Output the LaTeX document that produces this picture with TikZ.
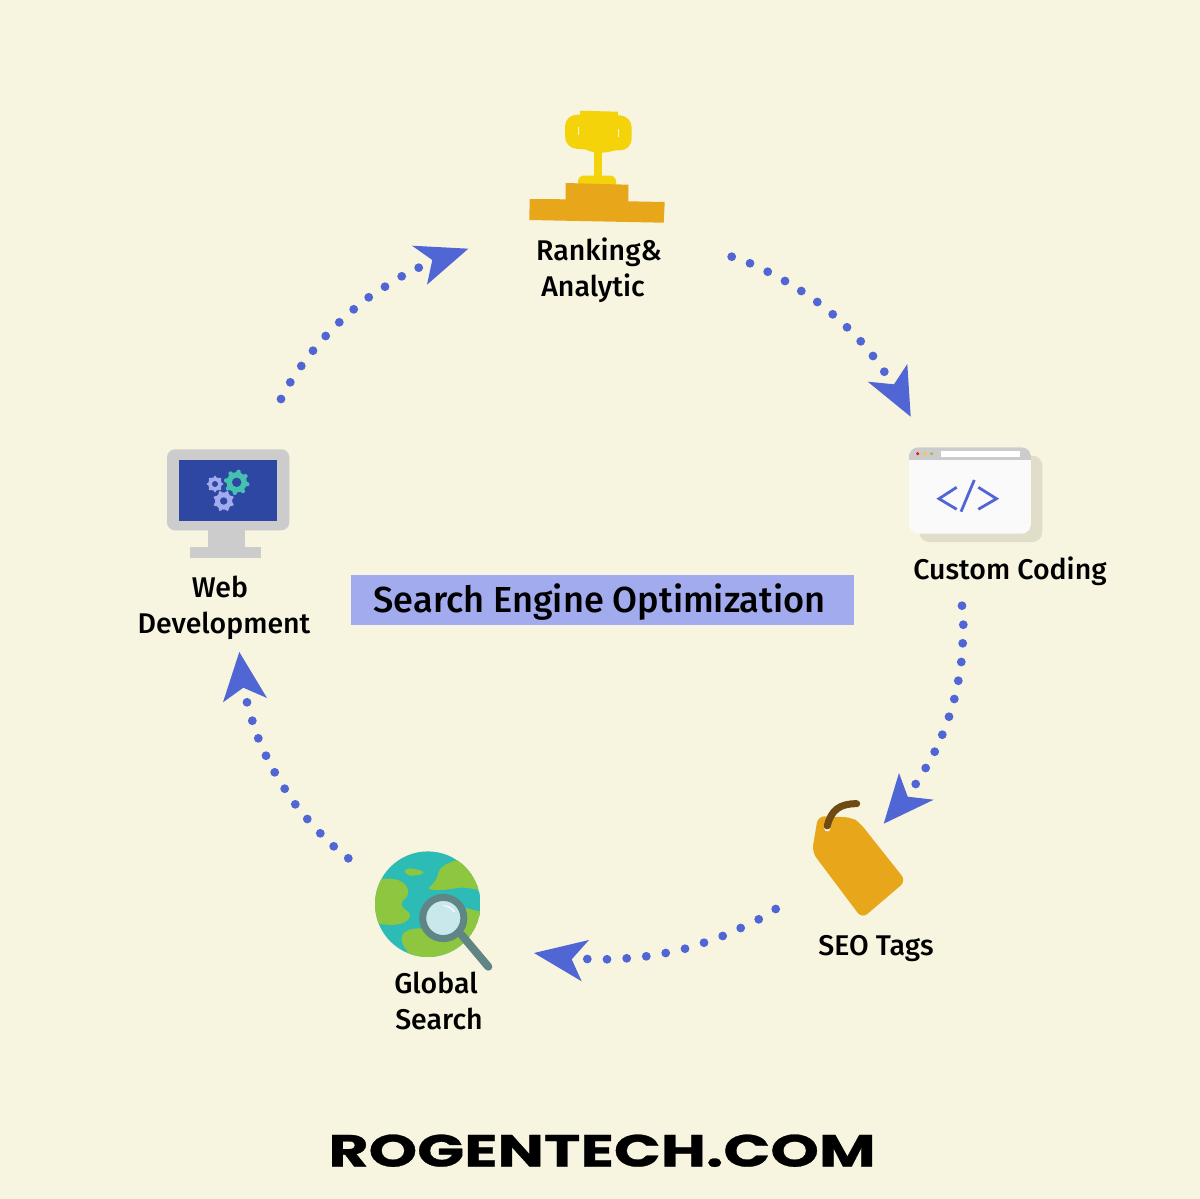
\documentclass[tikz,border=0pt]{standalone}
\usepackage{fontspec}
\usepackage{graphicx}
\setmainfont{Fira Sans}[UprightFont=* Medium]
\newfontfamily\brandfont{Poppins}[UprightFont=* Bold,FakeBold=0.6]
\definecolor{bgcream}{HTML}{F7F4E0}
\definecolor{dotblue}{HTML}{5066D4}
\definecolor{boxblue}{HTML}{A3ABEF}
\definecolor{trophyy}{HTML}{F5D30A}
\definecolor{amber}{HTML}{E8A71A}
\definecolor{shadowc}{HTML}{E0DEC9}
\definecolor{greyc}{HTML}{CCCCCC}
\definecolor{screenc}{HTML}{2D47A3}
\definecolor{gearteal}{HTML}{45C1B0}
\definecolor{stringc}{HTML}{6E4B12}
\definecolor{seac}{HTML}{2DBBB5}
\definecolor{landc}{HTML}{8EC63F}
\definecolor{lensring}{HTML}{5F8585}
\definecolor{glassc}{HTML}{C9E8EC}
\tikzset{
  flowdot/.style={fill=dotblue,draw=none},
  headshape/.style={fill=dotblue,draw=none},
  lbl/.style={anchor=base,inner sep=0pt,font=\fontsize{28.5}{28.5}\selectfont,text=black},
  land/.style={fill=landc,draw=none},
}
\newcommand{\dotarc}[1]{\foreach \px/\py in {#1} {\fill[flowdot] (\px,\py) circle[radius=4.4];}}
\newcommand{\gearicon}[6]{%x y r hole color teeth
  \fill[#5] (#1,#2) circle[radius=#3*0.8];
  \foreach \a in {0,45,...,315} {\draw[#5,line width=#3*0.34pt,line cap=round] ($(#1,#2)+(\a+#6:#3*0.7)$) -- ($(#1,#2)+(\a+#6:#3*0.84)$);}
  \fill[screenc] (#1,#2) circle[radius=#4];}
\usetikzlibrary{calc}
\begin{document}
\begin{tikzpicture}[x=1pt,y=-1pt]
\fill[bgcream] (0,0) rectangle (1200,1199);
\useasboundingbox (0,0) rectangle (1200,1199);

% connectors
\dotarc{731.7/256.7,750/263.3,767.7/271.7,785/281,801.3/291,817.3/302,832.7/314.3,847/327.3,860.7/341.3,873/356,884.3/371.7}
\fill[headshape] (867.7,381.7) -- (894,384.3) -- (907.3,364) -- (910.7,416.7) -- cycle;
\dotarc{962/605.7,963.3/624.7,962.7/643.3,961.3/662,958.3/680.7,954.3/699,949/716.7,942.3/734.7,934.7/751.7,925.7/768,915.7/784}
\fill[headshape] (899,773) -- (907.7,796.7) -- (933.7,799.7) -- (883.7,823.7) -- cycle;
\dotarc{775.7/909,758.7/919.3,740.7/928,722.7/936,704/942.7,685/948.7,665.7/953,646.3/956.3,626.7/958.3,607/959.3,587.3/959}
\fill[headshape] (589,940) -- (571.7,959.3) -- (581.7,981.3) -- (534,953) -- cycle;
\dotarc{348.3/858.3,333.7/846.3,320.3/833.3,307.3/819,295.3/804.3,284.7/788.7,274.7/772.3,266/755.7,258.3/738.3,252.3/720.7,247/702.3}
\fill[headshape] (223,702.3) -- (243.3,687.7) -- (267,698) -- (239.3,652) -- cycle;
\dotarc{281/399,290.3/382.3,301.3/366,313/350.7,325.7/336,339.3/322.3,353.7/309.3,368.7/297.3,385/286.7,401.7/276.3,418.7/267.7}
\fill[headshape] (412,245.7) -- (432.3,260) -- (427,284.7) -- (468.3,248.7) -- cycle;

% trophy
\fill[trophyy,rounded corners=12pt] (565,114.5) -- (631.7,115.5) -- (631.7,150.7) -- (565,148.5) -- cycle;
\fill[trophyy] (580,110.7) -- (618,111.7) -- (617,150) -- (608,152) .. controls (604,153) and (592,153) .. (587,150) -- (580,148) -- cycle;
\fill[bgcream] (578.2,127) rectangle (579.2,135);
\fill[bgcream] (617.5,129) rectangle (618.5,137);
\fill[trophyy] (594,150) rectangle (601.7,178);
\fill[trophyy,rounded corners=6pt] (578,190) -- (578,175.5) -- (616,175.5) -- (616,190) -- cycle;
\fill[amber] (529.7,199) -- (565.7,199.3) -- (565.7,183) -- (628.3,184.7) -- (628.3,201.3) -- (664.7,202) -- (663.7,222.7) -- (529.3,220) -- cycle;

% browser window
\fill[shadowc,rounded corners=10pt] (919.3,455.7) rectangle (1042.3,542);
\begin{scope}
\clip[rounded corners=10pt] (908.7,447.3) rectangle (1031.3,533.7);
\fill[white!98!black] (908.7,447.3) rectangle (1031.3,533.7);
\fill[greyc] (908.7,447.3) rectangle (1031.3,460);
\end{scope}
\fill[red!90!orange] (917.7,453.7) circle[radius=1.7];
\fill[trophyy] (925,453.7) circle[radius=1.7];
\fill[landc] (931.7,453.7) circle[radius=1.7];
\fill[white] (941,451) rectangle (1020,456.7);
\draw[dotblue,line width=2.8pt] (956.7,487.3) -- (939,498.7) -- (956.7,509.3);
\draw[dotblue,line width=2.8pt] (974.3,480) -- (961,511.7);
\draw[dotblue,line width=2.8pt] (978.3,487.3) -- (996.5,498.7) -- (978.3,509.3);

% tag
\fill[amber,rounded corners=7pt] (818,816) -- (852,817.5) -- (860,823) -- (906,881) -- (862,918.5) -- (812,852) -- cycle;
\fill[white] (827.3,828.3) circle[radius=3];
\draw[stringc,line width=7pt,line cap=round] (827.3,826) .. controls (831,810) and (840,803.5) .. (856.7,803.7);

% globe
\begin{scope}
\clip (427.8,904.2) circle[radius=52.8];
\fill[seac] (427.8,904.2) circle[radius=52.8];
\fill[land,rounded corners=3pt] (404.3,869.3) -- (410,868.3) -- (423.3,870.7) -- (423.3,874.3) -- (410,876) -- (405,873.3) -- cycle;
\fill[land] (457,860) .. controls (445,864) and (439,867) .. (437.3,876.7) .. controls (436,882) and (431,885) .. (428.3,888.3) .. controls (435,892) and (450,889) .. (460,887.7) .. controls (466,887) and (472,889) .. (485,891) -- (490,860) -- cycle;
\fill[land] (370,880) .. controls (380,879) and (392,878) .. (398,880) .. controls (405,882) and (409,888) .. (408.3,893.3) .. controls (407,899) and (400,901) .. (401.7,905) .. controls (403,910) and (410,911) .. (410,915) .. controls (410,922) and (400,925) .. (390,925) -- (370,923) -- cycle;
\fill[land] (401.7,938.3) .. controls (402,931) and (410,928) .. (423.3,928.3) .. controls (432,928) and (440,930) .. (445,925) -- (466,908) .. controls (470,909) and (476,911) .. (484,912) -- (484,965) -- (420,965) .. controls (408,953) and (401,945) .. (401.7,938.3) -- cycle;
\end{scope}
\draw[lensring,line width=8pt,line cap=round] (461.7,935) -- (488.3,966.7);
\fill[glassc] (443.3,918) circle[radius=18];
\draw[lensring,line width=7pt] (443.3,918) circle[radius=20.6];
\draw[white,line width=1pt] (443.5,905.5) .. controls (448,906) and (452,908) .. (454.5,912);

% monitor
\fill[greyc,rounded corners=8pt] (167,449.3) rectangle (289.3,530.3);
\fill[greyc] (208.3,530) rectangle (245,547.3);
\fill[greyc] (190.3,547.3) rectangle (261.3,557.7);
\fill[screenc] (179,459.7) rectangle (276.7,521.3);
\gearicon{236.7}{482.3}{12.8}{4.7}{gearteal}{10}
\gearicon{215}{484}{8.6}{3}{boxblue}{0}
\gearicon{223.7}{501}{10.8}{3.7}{boxblue}{22}

% title
\fill[boxblue] (351,574.7) rectangle (854,624.7);
\node[anchor=base,inner sep=0pt,text=black] (title) at (599.5,612.3) {\resizebox{452pt}{!}{\fontsize{36}{36}\selectfont Search Engine Optimization}};

% labels
\node[lbl] (rank1) at (599,260) {Ranking\&};
\node[lbl] (rank2) at (593,296) {Analytic};
\node[lbl] (code) at (1010,579) {Custom Coding};
\node[lbl] (seo) at (876,955) {SEO Tags};
\node[lbl] (glob1) at (436,993) {Global};
\node[lbl] (glob2) at (439,1029) {Search};
\node[lbl] (web1) at (220,597) {Web};
\node[lbl] (web2) at (224,633) {Development};

% brand
\node[anchor=base,inner sep=0pt,text=black] (brand) at (602,1166.5) {\resizebox{547pt}{32pt}{\brandfont ROGENTECH.COM}};
\end{tikzpicture}
\end{document}
